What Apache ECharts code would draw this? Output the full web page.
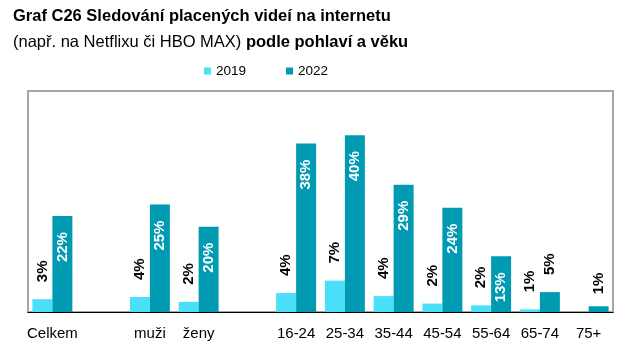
<!DOCTYPE html>
<html>
<head>
<meta charset="utf-8">
<script src="https://cdn.jsdelivr.net/npm/echarts@6/dist/echarts.min.js"></script>
<style>
  html, body { margin: 0; padding: 0; background: #fff; }
  #chart { width: 636px; height: 355px; }
</style>
</head>
<body>
<div id="chart"></div>
<script>
// kategorie (prázdné = mezera mezi skupinami)
var categories = ['Celkem', '', 'muži', 'ženy', '', '16-24', '25-34', '35-44', '45-54', '55-64', '65-74', '75+'];
// výška sloupců (%)
var values2019 = [2.9, '-', 3.4, 2.3, '-', 4.3, 7.1, 3.6, 1.9, 1.5, 0.6, '-'];
var values2022 = [21.7, '-', 24.3, 19.3, '-', 38.1, 40, 28.8, 23.6, 12.6, 4.5, 1.3];
// zaokrouhlené hodnoty v popiscích
var labels2019 = [3, null, 4, 2, null, 4, 7, 4, 2, 2, 1, null];
var labels2022 = [22, null, 25, 20, null, 38, 40, 29, 24, 13, 5, 1];
// sloupce 2022, u kterých je popisek nad sloupcem (malá hodnota)
var outside2022 = ['65-74', '75+'];

var FONT = 'Liberation Sans, Arial, sans-serif';

function pctFrom(list) {
    return function (p) {
        return list[p.dataIndex] + '%';
    };
}

var data2022 = values2022.map(function (v, i) {
    if (outside2022.indexOf(categories[i]) >= 0) {
        return {
            value: v,
            label: {
                position: 'top',
                align: 'left',
                color: '#000',
                distance: v < 2 ? 12 : 17
            }
        };
    }
    return v;
});

var chart = echarts.init(document.getElementById('chart'));
var option = {
    animation: false,
    color: ['#4BE0FA', '#009AB2'],
    textStyle: { fontFamily: FONT },
    title: {
        left: 13,
        top: 3,
        padding: 0,
        text: '{b|Graf C26 Sledování placených videí na internetu}\n' +
              '{n|(např. na Netflixu či HBO MAX) }{b|podle pohlaví a věku}',
        textStyle: {
            rich: {
                b: { fontFamily: FONT, fontSize: 16.5, fontWeight: 'bold', color: '#000', lineHeight: 26 },
                n: { fontFamily: FONT, fontSize: 16.5, fontWeight: 'normal', color: '#000', lineHeight: 26 }
            }
        }
    },
    legend: {
        data: ['2019', '2022'],
        left: 204,
        top: 64,
        padding: 0,
        icon: 'rect',
        itemWidth: 7,
        itemHeight: 7,
        itemGap: 40,
        textStyle: { fontFamily: FONT, fontSize: 13.5, color: '#000' }
    },
    grid: {
        left: 28,
        right: 23,
        top: 91,
        bottom: 43,
        show: true,
        borderColor: '#A6A6A6',
        borderWidth: 2
    },
    xAxis: {
        type: 'category',
        data: categories,
        axisLine: { lineStyle: { color: '#000', width: 1 } },
        axisTick: { length: 4, lineStyle: { color: '#000' } },
        axisLabel: { fontFamily: FONT, fontSize: 15, color: '#000', margin: 14, interval: 0 }
    },
    yAxis: {
        type: 'value',
        min: 0,
        max: 50,
        show: false,
        splitLine: { show: false }
    },
    series: [
        {
            name: '2019',
            type: 'bar',
            barGap: 0,
            barCategoryGap: '18%',
            data: values2019,
            label: {
                show: true,
                position: 'top',
                rotate: 90,
                align: 'left',
                verticalAlign: 'middle',
                distance: 17,
                fontFamily: FONT,
                fontSize: 15,
                fontWeight: 'bold',
                color: '#000',
                formatter: pctFrom(labels2019)
            }
        },
        {
            name: '2022',
            type: 'bar',
            barGap: 0,
            barCategoryGap: '18%',
            data: data2022,
            label: {
                show: true,
                position: 'insideTop',
                rotate: 90,
                align: 'right',
                verticalAlign: 'middle',
                distance: 16,
                fontFamily: FONT,
                fontSize: 15,
                fontWeight: 'bold',
                color: '#fff',
                formatter: pctFrom(labels2022)
            }
        }
    ]
};
chart.setOption(option);
</script>
</body>
</html>
